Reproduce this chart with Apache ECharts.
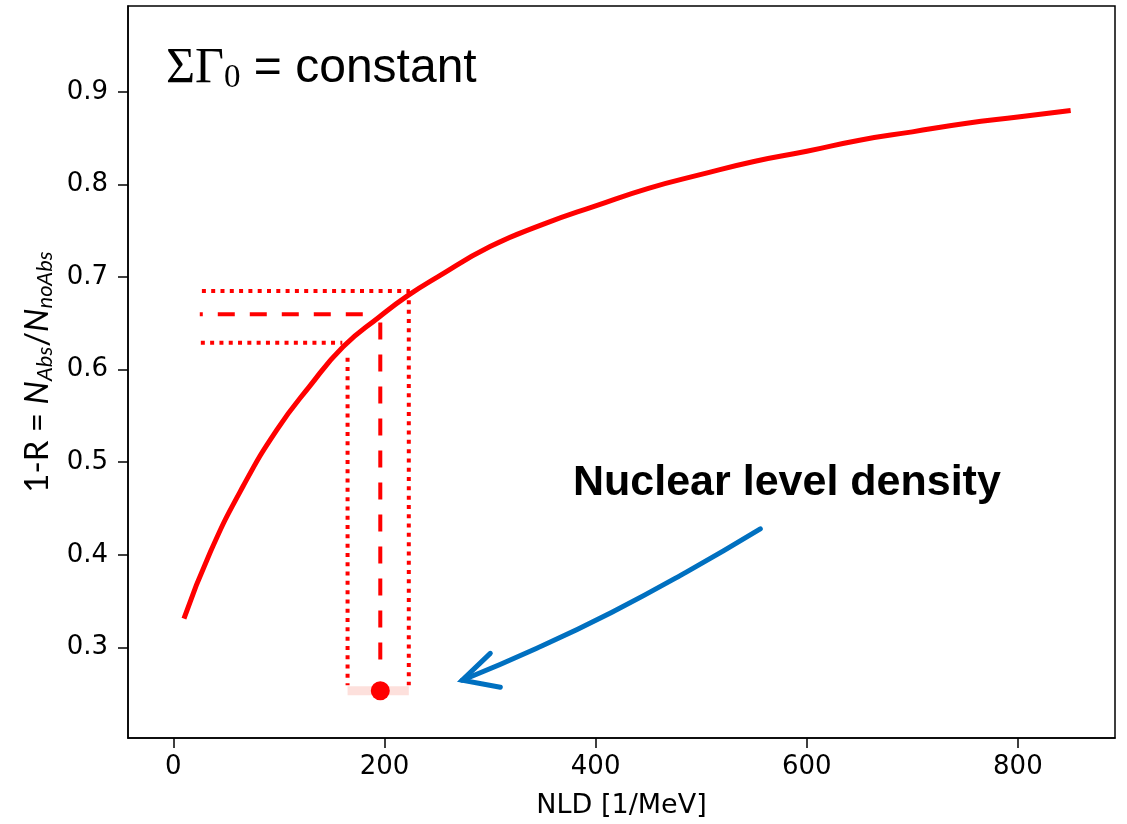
<!DOCTYPE html>
<html>
<head>
<meta charset="utf-8">
<script src="https://cdn.jsdelivr.net/npm/echarts@6/dist/echarts.min.js"></script>
<style>
  html, body { margin: 0; padding: 0; background: #fff; }
  #chart { width: 1127px; height: 824px; }
</style>
</head>
<body>
<div id="chart"></div>
<script>
// values
const nldX = [10, 35, 66, 98, 129, 161, 195, 222, 250, 300, 350, 400, 450, 500, 550, 600, 650, 700, 750, 800, 850];
const ratioY = [0.331, 0.403, 0.474, 0.535, 0.582, 0.625, 0.657, 0.680, 0.700, 0.733, 0.757, 0.777, 0.796, 0.811, 0.825, 0.836, 0.848, 0.857, 0.866, 0.873, 0.880];

const xTicks = [0, 200, 400, 600, 800];
const yTicks = [0.3, 0.4, 0.5, 0.6, 0.7, 0.8, 0.9];

// error band guides
const upperH = [[27, 0.685], [224, 0.685]];
const middleH = [[25, 0.66], [181, 0.66]];
const lowerH = [[26, 0.629], [160, 0.629]];
const leftV = [[165, 0.613], [165, 0.259]];
const rightV = [[223, 0.685], [223, 0.259]];
const middleV = [[196, 0.651], [196, 0.277]];
const nldBand = [[165, 0.253], [223, 0.253]];
const nldPoint = [[196, 0.253]];

// blue arrow
const arrowPath = [[556, 0.428], [485.5, 0.381], [415, 0.3377], [344.3, 0.299], [273.6, 0.2644]];
const arrowHead = [[300.2, 0.2935], [273.6, 0.2644], [309.7, 0.2569]];

const chart = echarts.init(document.getElementById('chart'));

const RED = '#ff0000';
const BLUE = '#0070c0';
const tickFont = { fontFamily: 'DejaVu Sans', fontSize: 26, color: '#000' };

function guide(data, dash, offset) {
  return {
    type: 'line', data: data, symbol: 'none', silent: true,
    lineStyle: { color: RED, width: 4, type: dash, dashOffset: offset || 0, cap: 'butt' }
  };
}

const option = {
  animation: false,
  backgroundColor: '#fff',
  grid: {
    left: 128, top: 6, right: 12, bottom: 84,
    show: true, borderColor: '#000', borderWidth: 1.5
  },
  xAxis: {
    type: 'value', min: -43, max: 892,
    name: 'NLD [1/MeV]', nameLocation: 'middle', nameGap: 54,
    nameTextStyle: { fontFamily: 'DejaVu Sans', fontSize: 27, color: '#000' },
    axisLine: { onZero: false, lineStyle: { color: '#000', width: 1.5 } },
    axisTick: { length: 10, lineStyle: { color: '#000', width: 1.5 }, customValues: xTicks },
    axisLabel: Object.assign({ margin: 16, customValues: xTicks }, tickFont),
    splitLine: { show: false }
  },
  yAxis: {
    type: 'value', min: 0.202, max: 0.993,
    name: '{a|1-R = }{n|N}{s|Abs}{a|/}{n|N}{s|noAbs}',
    nameLocation: 'middle', nameGap: 70,
    nameTextStyle: {
      rich: {
        a: { fontFamily: 'Lato', fontSize: 33, color: '#000', lineHeight: 36 },
        n: { fontFamily: 'Lato', fontStyle: 'italic', fontSize: 33, color: '#000', lineHeight: 36 },
        s: { fontFamily: 'Lato', fontStyle: 'italic', fontSize: 22, color: '#000', lineHeight: 20, verticalAlign: 'bottom' }
      }
    },
    axisLine: { show: true, onZero: false, lineStyle: { color: '#000', width: 1.5 } },
    axisTick: { show: true, length: 10, lineStyle: { color: '#000', width: 1.5 }, customValues: yTicks },
    axisLabel: Object.assign({
      margin: 20, customValues: yTicks,
      formatter: function (v) { return v.toFixed(1); }
    }, tickFont),
    splitLine: { show: false }
  },
  graphic: [
    {
      type: 'text', left: 166, top: 44, silent: true,
      style: {
        text: '{g|ΣΓ}{s|0}{t| = constant}',
        rich: {
          g: { fontFamily: 'Liberation Serif', fontSize: 50, fill: '#000', lineHeight: 52 },
          s: { fontFamily: 'Liberation Serif', fontSize: 33, fill: '#000', lineHeight: 30, verticalAlign: 'bottom' },
          t: { fontFamily: 'Liberation Sans', fontSize: 48, fill: '#000', lineHeight: 52 }
        }
      }
    },
    {
      type: 'text', left: 573, top: 462, silent: true,
      style: {
        text: 'Nuclear level density',
        font: 'bold 43px "Liberation Sans"',
        fill: '#000'
      }
    }
  ],
  series: [
    {
      type: 'line', smooth: 0.5, symbol: 'none', silent: true,
      data: nldX.map((x, i) => [x, ratioY[i]]),
      lineStyle: { color: RED, width: 5 }
    },
    guide(upperH, [4, 5.3]),
    guide(middleH, [17, 15], 14),
    guide(lowerH, [4, 5.3]),
    guide(leftV, [4, 5.3]),
    guide(rightV, [4, 5.3]),
    guide(middleV, [17, 15]),
    {
      type: 'line', data: nldBand, symbol: 'none', silent: true,
      lineStyle: { color: '#fde0dc', width: 9, cap: 'butt' }
    },
    {
      type: 'scatter', data: nldPoint, symbol: 'circle', symbolSize: 19, silent: true, z: 5,
      itemStyle: { color: RED, opacity: 1 }
    },
    {
      type: 'line', data: arrowPath, smooth: 0.5, symbol: 'none', silent: true,
      lineStyle: { color: BLUE, width: 5, cap: 'round' }
    },
    {
      type: 'line', data: arrowHead, symbol: 'none', silent: true,
      lineStyle: { color: BLUE, width: 5, cap: 'round', join: 'miter' }
    }
  ]
};

chart.setOption(option);
</script>
</body>
</html>
